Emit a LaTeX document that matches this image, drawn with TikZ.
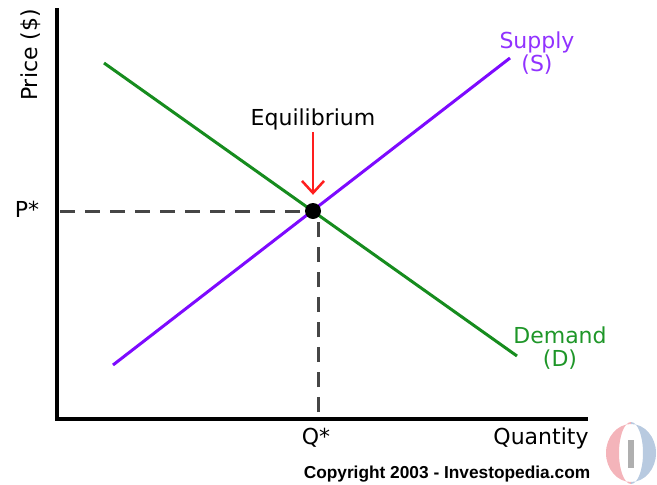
\documentclass[tikz,border=0pt]{standalone}
\usepackage{fontspec}
\setmainfont{DejaVu Sans}
\newfontfamily\copyfont{Liberation Sans}
\usepackage{xcolor}
\usetikzlibrary{
  positioning,
  arrows.meta
}

\definecolor{demandgreen}{RGB}{22,140,30}
\definecolor{demandtext}{RGB}{30,150,40}
\definecolor{supplyviolet}{RGB}{125,10,255}
\definecolor{supplytext}{RGB}{145,50,255}
\definecolor{guidegray}{RGB}{70,70,70}
\definecolor{pointerred}{RGB}{255,30,30}
\definecolor{logored}{RGB}{244,180,186}
\definecolor{logoblue}{RGB}{184,202,224}
\definecolor{logogray}{RGB}{175,175,175}

\begin{document}
\begin{tikzpicture}[
  x=1pt, y=-1pt,
  every node/.style={font=\fontsize{22}{23}\selectfont, inner sep=0pt},
  axis/.style={line width=4.5pt, black, line join=miter},
  curve/.style={line width=3pt},
  guide/.style={line width=3pt, guidegray, dash pattern=on 15pt off 10pt},
  tag/.style={align=center},
  pointer/.style={line width=2.5pt, pointerred, -{Straight Barb[length=12pt, width=22pt, line width=2.5pt]}},
  eqpoint/.style={circle, fill=black, minimum size=16pt}
]
\useasboundingbox (0,0) rectangle (657,485);

% Axes
\coordinate (ytop) at (57,8);
\coordinate (origin) at (57,419);
\coordinate (xend) at (588,419);
\draw[axis] (ytop) -- (origin) -- (xend);

% Curves
\coordinate (demandstart) at (104,63);
\coordinate (demandend) at (517,356);
\coordinate (supplystart) at (113,365);
\coordinate (supplyend) at (510,58);
\draw[curve, demandgreen] (demandstart) -- (demandend);
\draw[curve, supplyviolet] (supplystart) -- (supplyend);

% Equilibrium point
\coordinate (pstarend) at (60,211);
\coordinate (qstarend) at (318,412);
\coordinate (qstartop) at (318,218);
\node[eqpoint] (eqdot) at (313,211) {};
\draw[guide] (pstarend) -- (eqdot.west);
\draw[guide] (qstarend) -- (qstartop);

% Labels
\node[rotate=90] (pricelbl) at (31,55) {Price (\$)};
\node (pstar) at (27,209) {P*};
\node[anchor=base] (qstar) at (316,444) {Q*};
\node[anchor=base] (quantitylbl) at (541,444) {Quantity};
\node (eqlbl) at (313,119) {Equilibrium};
\node[tag, text=supplytext] (supplylbl) at (537,53) {Supply\\(S)};
\node[tag, text=demandtext] (demandlbl) at (560,348) {Demand\\(D)};
\node[anchor=base, font=\copyfont\bfseries\fontsize{17.3}{19}\selectfont] (copyright) at (447,478) {Copyright 2003 - Investopedia.com};

% Arrows
\draw[pointer, shorten <=2pt, shorten >=8pt] (eqlbl) -- (eqdot);

% Logo
\coordinate (logo) at (631,453);
\begin{scope}
  \clip (600,420) rectangle (631,485);
  \fill[logored, even odd rule] (logo) ellipse [x radius=25, y radius=29] (logo) ellipse [x radius=12, y radius=31];
\end{scope}
\begin{scope}
  \clip (631,420) rectangle (660,485);
  \fill[logoblue, even odd rule] (logo) ellipse [x radius=25, y radius=29] (logo) ellipse [x radius=12, y radius=31];
\end{scope}
\fill[logogray] (628,440) rectangle (634,468);

\end{tikzpicture}
\end{document}
